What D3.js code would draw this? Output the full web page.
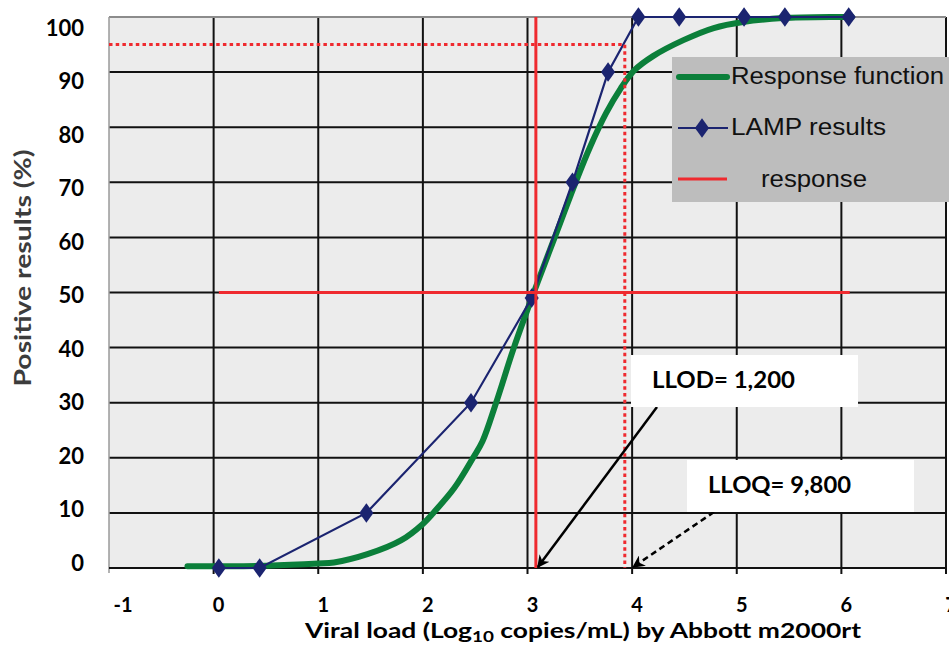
<!DOCTYPE html>
<html>
<head>
<meta charset="utf-8">
<script src="https://cdn.jsdelivr.net/npm/d3@7"></script>
<style>
  html, body { margin: 0; padding: 0; background: #fff; }
  svg { display: block; }
  .bold { font-family: Lato, "Open Sans", "Liberation Sans", sans-serif; font-weight: 700; }
  .legend text { font-family: "Liberation Sans", Arial, sans-serif; font-size: 23px; fill: #111; }
</style>
</head>
<body>
<svg id="chart" width="949" height="648"></svg>
<script>
// ── Data ──────────────────────────────────────────────────────────────────────

const xTicks = [-1, 0, 1, 2, 3, 4, 5, 6, 7];
const yTicks = [0, 10, 20, 30, 40, 50, 60, 70, 80, 90, 100];

// LAMP results (blue diamonds)
const lampX = [0.05, 0.44, 1.46, 2.46, 3.04, 3.43, 3.77, 4.06, 4.45, 5.07, 5.46, 6.07];
const lampY = [0, 0, 10, 30, 49, 70, 90, 100, 100, 100, 100, 100];

// fitted response function (green)
const respX = [-0.25, 0.5, 1.0, 1.15, 1.47, 1.79, 2.0, 2.1, 2.3, 2.48, 2.57, 2.7, 2.87,
               3.06, 3.26, 3.46, 3.6, 3.75, 3.89, 4.02, 4.2, 4.49, 4.78, 5.06, 5.44, 5.96, 6.1];
const respY = [0.3, 0.4, 0.8, 1, 2.5, 5, 8, 10, 14.5, 20, 23, 30, 40,
               50, 60, 70, 76.5, 82.5, 87, 90.3, 92.9, 95.8, 98, 99.1, 99.8, 100, 100];

// reference levels
const llodLog = 3.08;          // 50 % response -> 1,200 copies/mL
const lloqLog = 3.93;          // 95 % response
const halfLevel = 50;
const level95 = 95;
const halfSpan = [0.05, 6.08];

// ── Layout ────────────────────────────────────────────────────────────────────

const svg = d3.select('#chart');
const x = d3.scaleLinear().domain([-1, 7]).range([109, 946]);
const y = d3.scaleLinear().domain([0, 100]).range([568, 17]);
// Excel placed the y labels on a slightly tighter spacing than the grid
const yLab = d3.scaleLinear().domain([0, 100]).range([563, 28]);

const red = '#ef2a2f', navy = '#1b2470', green = '#0b7f3a';

// ── Plot area & grid ──────────────────────────────────────────────────────────

svg.append('rect')
  .attr('x', x(-1)).attr('y', y(100))
  .attr('width', x(7) - x(-1)).attr('height', y(0) - y(100))
  .attr('fill', '#ececec');

const grid = svg.append('g');
grid.selectAll('line.h').data(yTicks.filter(d => d > 0 && d < 100)).join('line')
  .attr('x1', x(-1)).attr('x2', x(7))
  .attr('y1', d => y(d)).attr('y2', d => y(d))
  .attr('stroke', '#111').attr('stroke-width', 2);
grid.selectAll('line.v').data(xTicks.filter(d => d > -1)).join('line')
  .attr('x1', d => x(d)).attr('x2', d => x(d))
  .attr('y1', y(100)).attr('y2', y(0) + 6)
  .attr('stroke', '#111').attr('stroke-width', 2);
// top / left border (grey)
grid.append('line').attr('x1', x(-1)).attr('x2', x(7)).attr('y1', y(100)).attr('y2', y(100))
  .attr('stroke', '#8c8c8c').attr('stroke-width', 2);
grid.append('line').attr('x1', x(-1)).attr('x2', x(-1)).attr('y1', y(100)).attr('y2', y(0) + 5)
  .attr('stroke', '#9a9a9a').attr('stroke-width', 1.5);
// x axis line
grid.append('line').attr('x1', x(-1)).attr('x2', x(7)).attr('y1', y(0)).attr('y2', y(0))
  .attr('stroke', '#111').attr('stroke-width', 2);

// ── Tick labels & titles ──────────────────────────────────────────────────────

svg.append('g').selectAll('text').data(yTicks).join('text')
  .attr('class', 'bold')
  .attr('x', 84).attr('y', d => yLab(d))
  .attr('dy', '0.35em')
  .attr('text-anchor', 'end')
  .attr('font-size', 22)
  .text(d => d);

svg.append('g').selectAll('text').data(xTicks).join('text')
  .attr('class', 'bold')
  .attr('x', d => x(d) + (d === -1 ? 14 : 5)).attr('y', 612)
  .attr('text-anchor', 'middle')
  .attr('font-size', 20)
  .text(d => d);

const xTitle = svg.append('text')
  .attr('class', 'bold')
  .attr('x', 305).attr('y', 638)
  .attr('font-size', 21)
  .attr('textLength', 556).attr('lengthAdjust', 'spacingAndGlyphs');
xTitle.append('tspan').text('Viral load (Log');
xTitle.append('tspan').attr('font-size', 15).attr('dy', 4).text('10');
xTitle.append('tspan').attr('dy', -4).text(' copies/mL)  by Abbott m2000rt');

svg.append('text')
  .attr('class', 'bold')
  .attr('transform', 'translate(31,268) rotate(-90)')
  .attr('text-anchor', 'middle')
  .attr('font-size', 22)
  .attr('fill', '#3c3c3c')
  .attr('textLength', 237).attr('lengthAdjust', 'spacingAndGlyphs')
  .text('Positive results (%)');

// ── Series ────────────────────────────────────────────────────────────────────

const respPts = respX.map((v, i) => [v, respY[i]]);
const lampPts = lampX.map((v, i) => [v, lampY[i]]);

svg.append('path')
  .datum(respPts)
  .attr('d', d3.line().x(d => x(d[0])).y(d => y(d[1])).curve(d3.curveCatmullRom.alpha(0.5)))
  .attr('fill', 'none')
  .attr('stroke', green).attr('stroke-width', 6)
  .attr('stroke-linecap', 'round').attr('stroke-linejoin', 'round');

svg.append('path')
  .datum(lampPts)
  .attr('d', d3.line().x(d => x(d[0])).y(d => y(d[1])))
  .attr('fill', 'none')
  .attr('stroke', navy).attr('stroke-width', 2.2);

const diamond = d3.symbol().type(d3.symbolDiamond).size(110);
svg.append('g').selectAll('path').data(lampPts).join('path')
  .attr('transform', d => `translate(${x(d[0])},${y(d[1])}) scale(1.25,1)`)
  .attr('d', diamond)
  .attr('fill', navy);

// ── Reference lines ───────────────────────────────────────────────────────────

svg.append('line')
  .attr('x1', x(halfSpan[0])).attr('x2', x(halfSpan[1]))
  .attr('y1', y(halfLevel)).attr('y2', y(halfLevel))
  .attr('stroke', red).attr('stroke-width', 3);
svg.append('line')
  .attr('x1', x(llodLog)).attr('x2', x(llodLog))
  .attr('y1', y(100)).attr('y2', y(0))
  .attr('stroke', red).attr('stroke-width', 3);

svg.append('path')
  .attr('d', `M${x(-1)},${y(level95)}H${x(lloqLog)}V${y(0)}`)
  .attr('fill', 'none')
  .attr('stroke', red).attr('stroke-width', 3)
  .attr('stroke-dasharray', '3.5,3.2');

// ── Legend ────────────────────────────────────────────────────────────────────

const legend = svg.append('g').attr('class', 'legend');
legend.append('rect')
  .attr('x', 672).attr('y', 57).attr('width', 277).attr('height', 145)
  .attr('fill', '#bdbdbd');

legend.append('line').attr('x1', 679).attr('x2', 727).attr('y1', 77).attr('y2', 77)
  .attr('stroke', green).attr('stroke-width', 6).attr('stroke-linecap', 'round');
legend.append('text').attr('x', 731).attr('y', 84)
  .attr('textLength', 213).attr('lengthAdjust', 'spacingAndGlyphs')
  .text('Response function');

legend.append('line').attr('x1', 678).attr('x2', 728).attr('y1', 128).attr('y2', 128)
  .attr('stroke', navy).attr('stroke-width', 2.2);
legend.append('path')
  .attr('transform', 'translate(702,128) scale(1.25,1)')
  .attr('d', diamond).attr('fill', navy);
legend.append('text').attr('x', 731).attr('y', 135)
  .attr('textLength', 155).attr('lengthAdjust', 'spacingAndGlyphs')
  .text('LAMP results');

legend.append('line').attr('x1', 678).attr('x2', 727).attr('y1', 179).attr('y2', 179)
  .attr('stroke', red).attr('stroke-width', 3);
legend.append('text').attr('x', 761).attr('y', 187)
  .attr('textLength', 106).attr('lengthAdjust', 'spacingAndGlyphs')
  .text('response');

// ── Annotations ───────────────────────────────────────────────────────────────

svg.append('defs').append('marker')
  .attr('id', 'arrow')
  .attr('viewBox', '0 0 10 10').attr('refX', 9).attr('refY', 5)
  .attr('markerWidth', 5).attr('markerHeight', 5)
  .attr('orient', 'auto')
  .append('path').attr('d', 'M0,0L10,5L0,10L3,5Z').attr('fill', '#000');

svg.append('line')
  .attr('x1', 657).attr('y1', 407).attr('x2', x(llodLog) + 2).attr('y2', y(0) - 1)
  .attr('stroke', '#000').attr('stroke-width', 2.5)
  .attr('marker-end', 'url(#arrow)');
svg.append('line')
  .attr('x1', 714).attr('y1', 512).attr('x2', x(4) + 1).attr('y2', y(0) - 1)
  .attr('stroke', '#000').attr('stroke-width', 2.5)
  .attr('stroke-dasharray', '6,4')
  .attr('marker-end', 'url(#arrow)');

const boxes = [
  { text: 'LLOD= 1,200', bx: 631, by: 355, tx: 652, ty: 388 },
  { text: 'LLOQ= 9,800', bx: 687, by: 460, tx: 708, ty: 493 }
];
boxes.forEach(b => {
  svg.append('rect').attr('x', b.bx).attr('y', b.by)
    .attr('width', 227).attr('height', 52).attr('fill', '#fff');
  svg.append('text').attr('class', 'bold')
    .attr('x', b.tx).attr('y', b.ty)
    .attr('font-size', 23)
    .attr('textLength', 143).attr('lengthAdjust', 'spacingAndGlyphs')
    .text(b.text);
});
</script>
</body>
</html>
